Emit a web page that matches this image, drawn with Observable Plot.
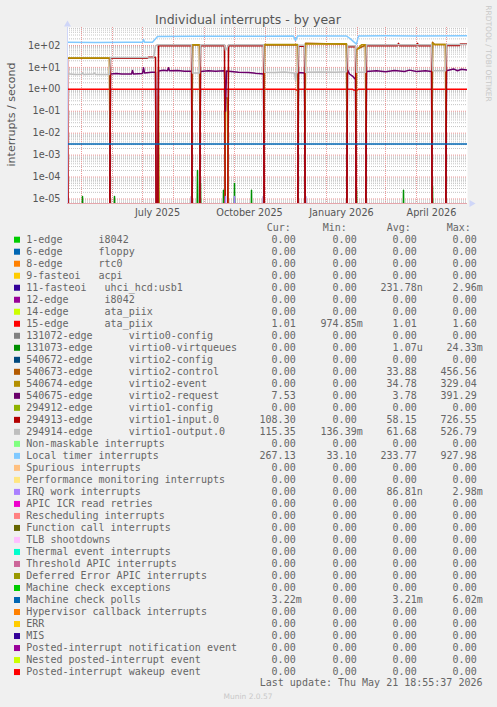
<!DOCTYPE html>
<html><head><meta charset="utf-8">
<script src="https://cdn.jsdelivr.net/npm/d3@7"></script>
<script src="https://cdn.jsdelivr.net/npm/@observablehq/plot@0.6"></script>
<style>
html,body{margin:0;padding:0;background:#F0F0F0;}
#root{position:relative;width:497px;height:707px;overflow:hidden;background:#F0F0F0;}
#root svg{position:absolute;left:0;top:0;}
</style></head><body><div id="root"></div>
<script>
// ---------- axes / ticks ----------
const xStart = "2025-04-17", xEnd = "2026-05-22";
const yMin = 6.2e-6, yMax = 660;
const xTickDates = ["2025-07-16", "2025-10-16", "2026-01-16", "2026-04-16"];
const xTickLabels = ["July 2025", "October 2025", "January 2026", "April 2026"];
const yTicks = [1e2, 1e1, 1e0, 1e-1, 1e-2, 1e-3, 1e-4, 1e-5];
const yTickLabels = ["1e+02", "1e+01", "1e+00", "1e-01", "1e-02", "1e-03", "1e-04", "1e-05"];

// ---------- series (date, interrupts/s) ----------
const irq11 = [["2025-04-16",0],["2025-04-17",1.3e-5],["2025-04-18",0],["2025-08-18",0],["2025-08-19",1.3e-5],["2025-08-20",0],["2025-10-29",0],["2025-10-30",1.3e-5],["2025-10-31",0],["2025-12-10",0],["2025-12-11",1.3e-5],["2025-12-12",0],["2026-05-22",0]];
const ata15 = [["2025-04-16",1.01],["2025-12-01",1.01],["2025-12-02",0.92],["2025-12-03",0.92],["2025-12-04",1.01],["2026-01-27",1.01],["2026-01-28",0.94],["2026-02-01",0.94],["2026-02-02",1.01],["2026-05-22",1.01]];
const virtq = [["2025-04-16",0],["2025-05-01",0],["2025-05-02",1.3e-5],["2025-05-03",0],["2025-06-02",0],["2025-06-03",1.3e-5],["2025-06-04",0],["2025-07-16",0],["2025-07-17",2.5e-5],["2025-07-18",0],["2025-08-24",0],["2025-08-25",2e-4],["2025-08-26",0],["2025-08-27",0],["2025-08-28",5e-5],["2025-08-29",0],["2025-09-19",0],["2025-09-20",2.5e-5],["2025-09-21",0],["2025-09-30",0],["2025-10-01",5e-5],["2025-10-02",0],["2025-10-17",0],["2025-10-18",2.5e-5],["2025-10-19",0],["2026-01-30",0],["2026-01-31",2.5e-5],["2026-02-01",0],["2026-03-18",0],["2026-03-19",2.5e-5],["2026-03-20",0],["2026-04-16",0],["2026-04-17",3.8e-5],["2026-04-18",0],["2026-05-22",0]];
const ctrl = [["2025-04-16",26],["2025-05-29",26],["2025-05-30",0],["2025-08-19",0],["2025-08-20",104],["2025-08-27",104],["2025-08-28",0],["2025-10-30",0],["2025-10-31",106],["2025-12-03",106],["2025-12-04",0],["2025-12-10",0],["2025-12-11",125],["2026-01-21",115],["2026-01-22",0],["2026-01-30",0],["2026-01-31",65],["2026-02-09",105],["2026-02-10",0],["2026-04-16",0],["2026-04-17",140],["2026-04-19",112],["2026-04-30",112],["2026-05-01",0],["2026-05-22",0]];
const event2 = [["2025-04-16",27],["2025-05-29",27],["2025-05-30",0],["2025-07-16",0],["2025-07-17",0.5],["2025-07-18",0],["2025-08-19",0],["2025-08-20",108],["2025-08-27",108],["2025-08-28",0],["2025-09-21",0],["2025-09-22",0.4],["2025-09-24",0.4],["2025-09-25",0],["2025-10-30",0],["2025-10-31",110],["2025-12-03",110],["2025-12-04",0],["2025-12-10",0],["2025-12-11",118],["2026-01-21",120],["2026-01-22",0],["2026-01-30",0],["2026-01-31",60],["2026-02-03",85],["2026-02-05",108],["2026-02-09",108],["2026-02-10",0],["2026-04-16",0],["2026-04-17",125],["2026-04-19",112],["2026-04-30",112],["2026-05-01",0],["2026-05-22",0]];
const request2 = [["2025-04-16",0],["2025-05-29",0],["2025-05-30",5.0],["2025-06-05",5.3],["2025-06-10",5.0],["2025-06-20",5.0],["2025-06-21",7.2],["2025-06-22",5.0],["2025-07-01",5.3],["2025-07-02",9.7],["2025-07-03",5.6],["2025-07-10",6.0],["2025-07-14",6.0],["2025-07-15",0],["2025-07-16",0],["2025-07-17",6.8],["2025-07-22",7.4],["2025-07-26",7.0],["2025-07-27",9.7],["2025-07-28",7.0],["2025-08-05",7.2],["2025-08-12",6.6],["2025-08-19",6.6],["2025-08-20",0],["2025-08-27",0],["2025-08-28",6.5],["2025-09-05",7.0],["2025-09-12",6.6],["2025-09-21",7.0],["2025-09-22",0.1],["2025-09-23",6.8],["2025-10-05",6.0],["2025-10-15",5.8],["2025-10-25",5.2],["2025-10-30",5.0],["2025-10-31",0],["2025-12-03",0],["2025-12-04",5.8],["2025-12-10",5.5],["2025-12-11",0],["2026-01-21",0],["2026-01-22",7.8],["2026-01-24",5.0],["2026-01-27",4.0],["2026-01-30",2.8],["2026-01-31",0],["2026-02-09",0],["2026-02-10",6.5],["2026-02-20",7.0],["2026-03-01",6.3],["2026-03-10",7.2],["2026-03-20",6.5],["2026-03-25",7.5],["2026-04-01",6.5],["2026-04-10",7.0],["2026-04-16",6.5],["2026-04-17",0],["2026-04-30",0],["2026-05-01",7.0],["2026-05-08",8.5],["2026-05-12",7.0],["2026-05-16",8.2],["2026-05-22",7.5]];
const input0 = [["2025-04-16",25],["2025-04-17",25],["2025-04-18",0],["2025-05-29",0],["2025-05-30",26],["2025-07-06",26],["2025-07-07",29],["2025-07-14",29],["2025-07-15",0],["2025-07-16",0],["2025-07-17",96],["2025-08-19",98],["2025-08-20",0],["2025-08-27",0],["2025-08-28",98],["2025-09-21",98],["2025-09-22",0],["2025-09-24",0],["2025-09-25",98],["2025-10-30",98],["2025-10-31",0],["2025-12-03",0],["2025-12-04",93],["2025-12-10",93],["2025-12-11",0],["2026-01-21",0],["2026-01-22",88],["2026-01-30",88],["2026-01-31",0],["2026-02-09",0],["2026-02-10",98],["2026-03-13",98],["2026-03-14",125],["2026-03-15",98],["2026-04-01",98],["2026-04-02",125],["2026-04-03",98],["2026-04-16",98],["2026-04-17",0],["2026-04-30",0],["2026-05-01",100],["2026-05-14",100],["2026-05-15",118],["2026-05-22",118]];
const output0 = [["2025-04-16",5.2],["2025-04-25",4.7],["2025-05-01",4.9],["2025-05-02",5.6],["2025-05-03",4.8],["2025-05-13",5.0],["2025-05-14",5.5],["2025-05-15",4.8],["2025-05-29",4.8],["2025-05-30",28],["2025-06-15",28],["2025-07-06",28],["2025-07-07",27],["2025-07-12",27],["2025-07-13",50],["2025-07-14",95],["2025-07-16",108],["2025-08-19",108],["2025-08-20",5.5],["2025-08-27",5.5],["2025-08-28",108],["2025-09-21",108],["2025-09-22",60],["2025-09-24",85],["2025-09-25",108],["2025-10-30",108],["2025-10-31",6.0],["2025-11-10",5.8],["2025-11-20",6.2],["2025-11-30",5.6],["2025-12-01",2.6],["2025-12-02",5.5],["2025-12-03",6.0],["2025-12-04",102],["2025-12-10",102],["2025-12-11",6.0],["2025-12-25",6.2],["2026-01-10",6.0],["2026-01-21",6.4],["2026-01-22",97],["2026-01-30",97],["2026-01-31",6.0],["2026-02-09",6.0],["2026-02-10",108],["2026-04-16",108],["2026-04-17",7.0],["2026-04-30",7.0],["2026-05-01",110],["2026-05-22",112]];
const localTimer = [["2025-04-16",140],["2025-05-15",138],["2025-06-15",140],["2025-07-01",140],["2025-07-02",188],["2025-07-03",142],["2025-07-11",142],["2025-07-16",258],["2025-08-20",262],["2025-09-22",260],["2025-10-30",265],["2025-11-29",268],["2025-12-01",170],["2025-12-03",268],["2026-01-21",270],["2026-01-25",200],["2026-01-28",150],["2026-01-31",115],["2026-02-02",272],["2026-03-01",275],["2026-04-01",272],["2026-05-22",274]];
const irqWork = [["2025-09-21",0],["2025-09-22",1.3e-5],["2025-09-23",0],["2025-09-30",0],["2025-10-01",1.3e-5],["2025-10-02",0]];
const mcPolls = [["2025-04-16",0.0032],["2026-05-22",0.0032]];

// ---------- legend ----------
const rowLabels = ["1-edge      i8042","6-edge      floppy","8-edge      rtc0","9-fasteoi   acpi","11-fasteoi   uhci_hcd:usb1","12-edge      i8042","14-edge      ata_piix","15-edge      ata_piix","131072-edge      virtio0-config","131073-edge      virtio0-virtqueues","540672-edge      virtio2-config","540673-edge      virtio2-control","540674-edge      virtio2-event","540675-edge      virtio2-request","294912-edge      virtio1-config","294913-edge      virtio1-input.0","294914-edge      virtio1-output.0","Non-maskable interrupts","Local timer interrupts","Spurious interrupts","Performance monitoring interrupts","IRQ work interrupts","APIC ICR read retries","Rescheduling interrupts","Function call interrupts","TLB shootdowns","Thermal event interrupts","Threshold APIC interrupts","Deferred Error APIC interrupts","Machine check exceptions","Machine check polls","Hypervisor callback interrupts","ERR","MIS","Posted-interrupt notification event","Nested posted-interrupt event","Posted-interrupt wakeup event"];
const rowColors = ["#00CC00","#0066B3","#FF8000","#FFCC00","#330099","#990099","#CCFF00","#FF0000","#808080","#008F00","#00487D","#B35A00","#B38F00","#6B006B","#8FB300","#B30000","#BEBEBE","#80FF80","#80C9FF","#FFC080","#FFE680","#AA80FF","#EE00CC","#FF8080","#666600","#FFBFFF","#00FFCC","#CC6699","#999900","#00CC00","#0066B3","#FF8000","#FFCC00","#330099","#990099","#CCFF00","#FF0000"];
const curVals = ["0.00","0.00","0.00","0.00","0.00","0.00","0.00","1.01","0.00","0.00","0.00","0.00","0.00","7.53","0.00","108.30","115.35","0.00","267.13","0.00","0.00","0.00","0.00","0.00","0.00","0.00","0.00","0.00","0.00","0.00","3.22m","0.00","0.00","0.00","0.00","0.00","0.00"];
const minVals = ["0.00","0.00","0.00","0.00","0.00","0.00","0.00","974.85m","0.00","0.00","0.00","0.00","0.00","0.00","0.00","0.00","136.39m","0.00","33.10","0.00","0.00","0.00","0.00","0.00","0.00","0.00","0.00","0.00","0.00","0.00","0.00","0.00","0.00","0.00","0.00","0.00","0.00"];
const avgVals = ["0.00","0.00","0.00","0.00","231.78n","0.00","0.00","1.01","0.00","1.07u","0.00","33.88","34.78","3.78","0.00","58.15","61.68","0.00","233.77","0.00","0.00","86.81n","0.00","0.00","0.00","0.00","0.00","0.00","0.00","0.00","3.21m","0.00","0.00","0.00","0.00","0.00","0.00"];
const maxVals = ["0.00","0.00","0.00","0.00","2.96m","0.00","0.00","1.60","0.00","24.33m","0.00","456.56","329.04","391.29","0.00","726.55","526.79","0.00","927.98","0.00","0.00","2.98m","0.00","0.00","0.00","0.00","0.00","0.00","0.00","0.00","6.02m","0.00","0.00","0.00","0.00","0.00","0.00"];
const headers = ["Cur:", "Min:", "Avg:", "Max:"];
const lastUpdate = "Last update: Thu May 21 18:55:37 2026";

// ---------- chart ----------
const parse = s => new Date(s + "T00:00:00Z");
const toRows = arr => arr.map(([d, v]) => ({date: parse(d), v}));
const FLOOR = 1e-9;
const yv = d => d.v > 0 ? d.v : FLOOR;
const xDomain = [parse(xStart), parse(xEnd)];
const xLabelMap = new Map(xTickDates.map((d, i) => [+parse(d), xTickLabels[i]]));
const minorY = [];
for (let e = -6; e <= 2; e++) for (let k = 2; k <= 9; k++) { const v = k * Math.pow(10, e); if (v > yMin && v < yMax) minorY.push(v); }
const monthStarts = d3.utcMonth.range(xDomain[0], xDomain[1]);

const seriesList = [
  [irq11, "#330099"], [ata15, "#FF0000"], [virtq, "#008F00"], [ctrl, "#B35A00"],
  [event2, "#B38F00"], [request2, "#6B006B"], [input0, "#B30000"], [output0, "#BEBEBE"],
  [localTimer, "#80C9FF"], [irqWork, "#AA80FF"], [mcPolls, "#0066B3"]
];

const chart = Plot.plot({
  width: 497, height: 222,
  marginTop: 27, marginBottom: 19, marginLeft: 67, marginRight: 30,
  style: {background: "#F0F0F0", color: "#555", fontFamily: "DejaVu Sans", fontSize: "9.7px", overflow: "visible"},
  x: {type: "utc", domain: xDomain, ticks: xTickDates.map(parse), tickFormat: d => xLabelMap.get(+d), tickSize: 0, tickPadding: 6, label: null},
  y: {type: "log", domain: [yMin, yMax], ticks: yTicks, tickFormat: d => yTickLabels[yTicks.indexOf(d)], tickSize: 0, tickPadding: 7, label: null},
  marks: [
    Plot.frame({fill: "white", stroke: null}),
    Plot.ruleY(minorY, {stroke: "#c4c4c4", strokeDasharray: "1,1"}),
    Plot.ruleX(monthStarts, {stroke: "#ee9a9a", strokeDasharray: "1,1"}),
    Plot.ruleY(yTicks, {stroke: "#ee9a9a", strokeDasharray: "1,1"}),
    ...seriesList.map(([arr, c]) => Plot.line(toRows(arr), {x: "date", y: yv, stroke: c, strokeWidth: 1.5, clip: true})),
    Plot.ruleX([xDomain[0]], {stroke: "#CFD6F8"}),
    Plot.ruleY([yMin], {stroke: "#e6a6ac"}),
    Plot.dot([0], {x: () => xDomain[0], y: () => yMax, symbol: "triangle", r: 2.6, fill: "#CFD6F8", stroke: null, dy: -3}),
    Plot.dot([0], {x: () => xDomain[1], y: () => yMin, symbol: "triangle", r: 2.6, fill: "#CFD6F8", stroke: null, dx: 4, rotate: 90})
  ]
});
const root = document.getElementById("root");
root.appendChild(chart);

// ---------- overlay text ----------
const NS = "http://www.w3.org/2000/svg";
const ov = document.createElementNS(NS, "svg");
ov.setAttribute("width", 497); ov.setAttribute("height", 707);
root.appendChild(ov);
function txt(str, x, y, o = {}) {
  const t = document.createElementNS(NS, "text");
  t.setAttribute("x", x); t.setAttribute("y", y);
  t.setAttribute("font-family", o.family || "DejaVu Sans");
  t.setAttribute("font-size", o.size || 10);
  t.setAttribute("fill", o.fill || "#666");
  t.setAttribute("text-anchor", o.anchor || "start");
  if (o.transform) t.setAttribute("transform", o.transform);
  t.style.whiteSpace = "pre";
  t.textContent = str;
  ov.appendChild(t);
  return t;
}
txt("Individual interrupts - by year", 248, 23.5, {size: 12.5, anchor: "middle", fill: "#555"});
txt("interrupts / second", 0, 0, {size: 11, anchor: "middle", fill: "#555", transform: "translate(14.5,114.5) rotate(-90)"});
txt("RRDTOOL / TOBI OETIKER", 0, 0, {size: 7.5, anchor: "middle", fill: "#c8c8c8", transform: "translate(485.5,53.5) rotate(90)"});

const mono = "DejaVu Sans Mono";
const headX = [266.7, 322.7, 386.7, 446.7];
headers.forEach((h, i) => txt(h, headX[i], 230.5, {family: mono, size: 10}));
const colEnd = [295.7, 356.7, 416.7, 476.7];
const cols = [curVals, minVals, avgVals, maxVals];
rowLabels.forEach((lab, i) => {
  const b = 242.7 + 12.01 * i;
  const r = document.createElementNS(NS, "rect");
  r.setAttribute("x", 14); r.setAttribute("y", b - 6); r.setAttribute("width", 6); r.setAttribute("height", 6);
  r.setAttribute("fill", rowColors[i]);
  ov.appendChild(r);
  txt(lab, 26.3, b, {family: mono, size: 10});
  cols.forEach((col, j) => {
    const s = col[i];
    const m = s.match(/^([\d.]+)([a-zA-Z]?)$/);
    txt(m[1], colEnd[j], b, {family: mono, size: 10, anchor: "end"});
    if (m[2]) txt(m[2], colEnd[j], b, {family: mono, size: 10});
  });
});
txt(lastUpdate, 482.5, 685.5, {family: mono, size: 10, anchor: "end"});
txt("Munin 2.0.57", 248, 698.5, {size: 7.5, anchor: "middle", fill: "#c8c8c8"});
</script></body></html>
